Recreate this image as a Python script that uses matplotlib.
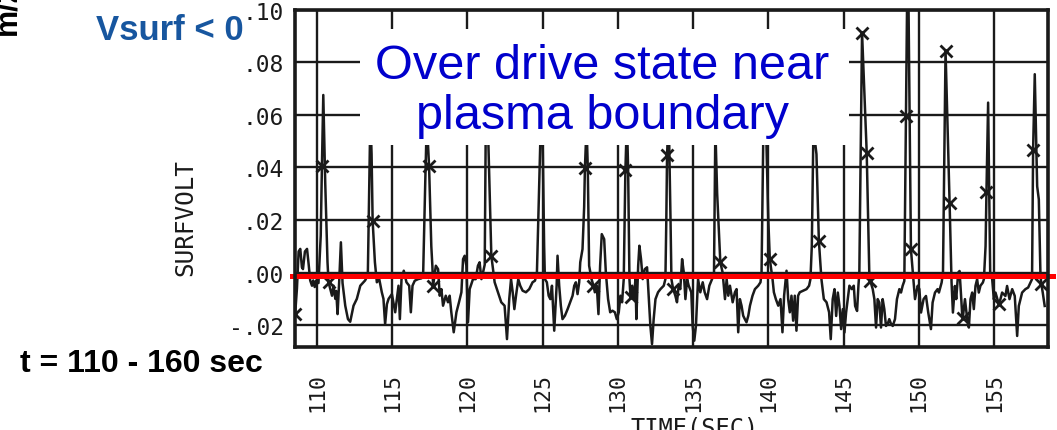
import matplotlib
matplotlib.use('Agg')
import matplotlib.pyplot as plt
from matplotlib.patches import Rectangle

# ---- data (time in sec, surface voltage) ----
time_s = [
    108.55, 108.67, 108.78, 108.89, 109.00, 109.07, 109.20, 109.34, 109.45, 109.55,
    109.67, 109.75, 109.85, 109.95, 110.10, 110.25, 110.33, 110.42, 110.55, 110.70,
    110.77, 111.00, 111.10, 111.22, 111.28, 111.37, 111.48, 111.59, 111.70, 111.88,
    112.06, 112.21, 112.43, 112.65, 112.88, 113.20, 113.38, 113.47, 113.55, 113.63,
    113.70, 113.85, 113.98, 114.14, 114.31, 114.42, 114.53, 114.65, 114.76, 114.98,
    115.20, 115.42, 115.51, 115.62, 115.77, 115.95, 116.13, 116.24, 116.35, 116.50,
    116.72, 116.94, 117.06, 117.20, 117.30, 117.45, 117.60, 117.67, 117.72, 117.90,
    118.05, 118.16, 118.27, 118.38, 118.56, 118.71, 118.82, 118.93, 119.09, 119.27,
    119.44, 119.60, 119.71, 119.82, 119.93, 120.04, 120.15, 120.37, 120.55, 120.70,
    120.81, 120.93, 121.04, 121.15, 121.22, 121.38, 121.59, 121.81, 122.03, 122.25,
    122.47, 122.63, 122.78, 122.90, 123.01, 123.12, 123.23, 123.38, 123.51, 123.67,
    123.89, 124.11, 124.33, 124.49, 124.62, 124.78, 124.90, 125.00, 125.10, 125.15,
    125.28, 125.40, 125.51, 125.62, 125.77, 125.93, 125.99, 126.10, 126.21, 126.32,
    126.48, 126.66, 126.83, 126.99, 127.10, 127.21, 127.32, 127.43, 127.50, 127.65,
    127.76, 127.81, 127.92, 128.00, 128.09, 128.25, 128.38, 128.47, 128.60, 128.71,
    128.82, 128.93, 129.09, 129.20, 129.35, 129.49, 129.64, 129.80, 129.93, 130.06,
    130.17, 130.28, 130.39, 130.50, 130.60, 130.68, 130.77, 130.84, 130.95, 131.06,
    131.17, 131.23, 131.35, 131.43, 131.54, 131.65, 131.79, 131.94, 132.05, 132.16,
    132.27, 132.38, 132.50, 132.67, 132.83, 133.05, 133.16, 133.22, 133.27, 133.38,
    133.50, 133.56, 133.67, 133.82, 133.93, 134.04, 134.15, 134.27, 134.38, 134.49,
    134.60, 134.71, 134.88, 134.97, 135.08, 135.19, 135.33, 135.48, 135.64, 135.77,
    135.93, 136.08, 136.26, 136.39, 136.48, 136.60, 136.81, 136.96, 137.12, 137.23,
    137.34, 137.45, 137.63, 137.78, 137.89, 138.00, 138.11, 138.22, 138.33, 138.44,
    138.55, 138.67, 138.78, 138.95, 139.11, 139.33, 139.48, 139.55, 139.68, 139.85,
    140.00, 140.10, 140.28, 140.37, 140.50, 140.66, 140.81, 140.94, 141.05, 141.21,
    141.32, 141.43, 141.54, 141.65, 141.76, 141.87, 141.98, 142.09, 142.32, 142.54,
    142.71, 142.80, 142.89, 143.00, 143.20, 143.36, 143.53, 143.69, 143.87, 144.04,
    144.15, 144.28, 144.40, 144.51, 144.62, 144.73, 144.84, 144.95, 145.06, 145.17,
    145.28, 145.39, 145.55, 145.68, 145.77, 145.90, 145.99, 146.05, 146.23, 146.54,
    146.72, 146.78, 146.94, 147.05, 147.16, 147.27, 147.38, 147.49, 147.60, 147.71,
    147.82, 147.93, 148.04, 148.16, 148.27, 148.42, 148.55, 148.71, 148.82, 148.93,
    149.04, 149.15, 149.27, 149.48, 149.66, 149.75, 149.93, 150.04, 150.15, 150.32,
    150.48, 150.63, 150.81, 150.92, 151.08, 151.25, 151.34, 151.52, 151.61, 151.78,
    152.05, 152.18, 152.27, 152.40, 152.49, 152.62, 152.71, 152.80, 152.89, 152.93,
    153.07, 153.22, 153.33, 153.44, 153.55, 153.66, 153.77, 153.88, 153.99, 154.10,
    154.26, 154.33, 154.44, 154.50, 154.61, 154.75, 154.88, 154.99, 155.10, 155.32,
    155.43, 155.54, 155.76, 155.87, 156.03, 156.21, 156.38, 156.54, 156.65, 156.87,
    157.09, 157.27, 157.42, 157.53, 157.60, 157.71, 157.87, 157.98, 158.09, 158.15,
    158.24, 158.37,
]
surfvolt = [
    -0.0158, -0.0060, 0.0080, 0.0090, 0.0020, 0.0013, 0.0080, 0.0090, 0.0030, -0.0030,
    -0.0050, -0.0030, -0.0055, -0.0030, -0.0040, 0.0140, 0.0406, 0.0675, 0.0340, 0.0040,
    -0.0037, -0.0088, -0.0050, -0.0100, -0.0070, -0.0158, -0.0030, 0.0115, -0.0040, -0.0126,
    -0.0177, -0.0187, -0.0126, -0.0100, -0.0050, -0.0030, -0.0010, 0.0300, 0.0600, 0.0450,
    0.0197, 0.0040, -0.0037, -0.0025, -0.0075, -0.0100, -0.0196, -0.0120, -0.0100, -0.0082,
    -0.0151, -0.0050, -0.0177, -0.0025, 0.0007, -0.0037, -0.0050, -0.0151, -0.0050, -0.0031,
    -0.0025, -0.0022, 0.0000, 0.0350, 0.0580, 0.0406, 0.0100, 0.0026, -0.0050, 0.0026,
    0.0013, -0.0088, -0.0063, -0.0126, -0.0088, -0.0113, -0.0088, -0.0151, -0.0227, -0.0151,
    -0.0113, -0.0075, 0.0051, 0.0064, 0.0026, -0.0189, -0.0063, -0.0025, -0.0025, 0.0026,
    0.0039, -0.0025, 0.0001, 0.0030, 0.0560, 0.0520, 0.0064, -0.0037, -0.0075, -0.0113,
    -0.0126, -0.0253, -0.0101, -0.0025, -0.0075, -0.0139, -0.0088, -0.0025, -0.0050, -0.0069,
    -0.0075, -0.0063, -0.0037, -0.0031, 0.0000, 0.0350, 0.0620, 0.0500, 0.0100, -0.0025,
    -0.0037, -0.0088, -0.0101, -0.0050, -0.0221, -0.0050, 0.0064, -0.0050, -0.0126, -0.0177,
    -0.0164, -0.0139, -0.0113, -0.0088, -0.0050, -0.0037, -0.0082, -0.0037, 0.0039, 0.0089,
    0.0250, 0.0398, 0.0560, 0.0400, 0.0026, -0.0025, -0.0050, -0.0075, -0.0050, -0.0158,
    0.0026, 0.0146, 0.0127, 0.0001, -0.0101, -0.0151, -0.0145, -0.0151, -0.0177, -0.0151,
    -0.0088, -0.0113, -0.0025, 0.0388, 0.0580, 0.0400, -0.0025, -0.0094, -0.0050, -0.0101,
    -0.0025, -0.0177, 0.0026, 0.0102, 0.0051, -0.0025, 0.0013, 0.0020, -0.0088, -0.0202,
    -0.0272, -0.0177, -0.0101, -0.0075, -0.0063, -0.0050, -0.0025, 0.0200, 0.0448, 0.0600,
    0.0200, -0.0025, -0.0062, -0.0088, -0.0113, -0.0050, -0.0063, 0.0051, 0.0001, -0.0101,
    -0.0025, -0.0050, -0.0075, -0.0202, -0.0259, -0.0202, -0.0025, -0.0075, -0.0037, -0.0075,
    -0.0101, -0.0050, -0.0025, 0.0000, 0.0550, 0.0300, 0.0039, 0.0001, -0.0101, -0.0025,
    -0.0088, -0.0050, -0.0113, -0.0075, -0.0063, -0.0227, -0.0101, -0.0126, -0.0164, -0.0177,
    -0.0189, -0.0164, -0.0126, -0.0088, -0.0063, -0.0050, -0.0037, 0.0000, 0.0580, 0.0550,
    0.0200, 0.0051, -0.0025, -0.0075, -0.0101, -0.0126, -0.0101, -0.0227, -0.0088, 0.0007,
    -0.0101, -0.0151, -0.0088, -0.0183, -0.0088, -0.0221, -0.0088, -0.0075, -0.0069, -0.0063,
    -0.0050, -0.0025, 0.0100, 0.0550, 0.0450, 0.0121, -0.0025, -0.0101, -0.0113, -0.0151,
    -0.0253, -0.0101, -0.0063, -0.0165, -0.0076, -0.0127, -0.0215, -0.0139, -0.0228, -0.0152,
    -0.0101, -0.0050, -0.0063, -0.0050, -0.0127, -0.0146, -0.0050, 0.0000, 0.0912, 0.0456,
    -0.0025, -0.0032, -0.0063, -0.0101, -0.0209, -0.0101, -0.0114, -0.0209, -0.0101, -0.0139,
    -0.0203, -0.0196, -0.0177, -0.0196, -0.0203, -0.0177, -0.0101, -0.0063, -0.0076, -0.0050,
    -0.0032, 0.0596, 0.1300, 0.0088, -0.0038, -0.0101, -0.0050, -0.0063, -0.0152, -0.0101,
    -0.0089, -0.0152, -0.0215, -0.0114, -0.0076, -0.0063, -0.0076, -0.0038, 0.0000, 0.0843,
    0.0263, -0.0038, -0.0152, -0.0051, -0.0101, 0.0000, 0.0006, -0.0076, -0.0165, -0.0171,
    -0.0101, -0.0177, -0.0209, -0.0101, -0.0076, -0.0139, -0.0051, -0.0025, -0.0076, -0.0050,
    -0.0038, -0.0025, 0.0100, 0.0307, 0.0646, -0.0010, -0.0025, -0.0101, -0.0076, -0.0120,
    -0.0101, -0.0076, -0.0089, -0.0051, -0.0101, -0.0063, -0.0089, -0.0241, -0.0127, -0.0076,
    -0.0063, -0.0057, -0.0038, -0.0025, 0.0466, 0.0754, 0.0328, 0.0278, -0.0012, -0.0044,
    -0.0076, -0.0127,
]

# plotted symbols along the trace
marker_time = [108.55, 110.33, 110.77, 113.70, 117.45, 117.72, 121.59, 127.81, 128.38,
               130.50, 130.84, 133.27, 133.67, 136.81, 140.10, 143.36, 146.23, 146.54,
               146.78, 149.15, 149.48, 151.78, 152.05, 152.93, 154.50, 155.32, 157.60,
               158.15]
marker_volt = [-0.0158, 0.0406, -0.0037, 0.0197, 0.0406, -0.0050, 0.0064, 0.0398, -0.0050,
               0.0388, -0.0094, 0.0448, -0.0062, 0.0039, 0.0051, 0.0121, 0.0912, 0.0456,
               -0.0032, 0.0596, 0.0088, 0.0843, 0.0263, -0.0171, 0.0307, -0.0120, 0.0466,
               -0.0044]

x_ticks = [110, 115, 120, 125, 130, 135, 140, 145, 150, 155]
x_tick_labels = ['110', '115', '120', '125', '130', '135', '140', '145', '150', '155']
y_ticks = [-0.02, 0.0, 0.02, 0.04, 0.06, 0.08, 0.10]
y_tick_labels = ['-.02', '.00', '.02', '.04', '.06', '.08', '.10']
red_level = -0.0012   # hand-drawn Vsurf = 0 line

W, H = 1057, 431
fig = plt.figure(figsize=(W / 100, H / 100), dpi=100)
fig.patch.set_facecolor('white')
ax = fig.add_axes([295 / W, 1 - 348 / H, 753 / W, 337.5 / H])

mono = 'DejaVu Sans Mono'
sans = 'Liberation Sans'
ink = '#1a1a1a'

ax.set_xlim(108.54, 158.59)
ax.set_ylim(-0.0283, 0.100)
ax.set_xticks(x_ticks)
ax.set_xticklabels(x_tick_labels, rotation=90, family=mono, fontsize=15.5, va='top')
ax.set_yticks(y_ticks)
ax.set_yticklabels(y_tick_labels, family=mono, fontsize=16.5)
ax.tick_params(axis='both', length=0, colors=ink)
ax.tick_params(axis='x', pad=18)
ax.tick_params(axis='y', pad=8)
ax.grid(True, color=ink, linewidth=1.7, zorder=1)
ax.set_axisbelow(True)
for s in ax.spines.values():
    s.set_linewidth(2.6)
    s.set_color(ink)
    s.set_zorder(8)

ax.plot(time_s, surfvolt, color=ink, linewidth=1.8, zorder=3)
ax.plot(marker_time, marker_volt, linestyle='none', marker='x', markersize=8,
        markeredgewidth=2.0, color=ink, zorder=4)

# white label box covering grid and trace
ax.add_patch(Rectangle((0.0863, 0.5985), 0.6494, 0.3437, transform=ax.transAxes,
                       facecolor='white', edgecolor='none', zorder=5))
ax.text(0.408, 0.760, 'Over drive state near\nplasma boundary', transform=ax.transAxes,
        ha='center', va='center', fontsize=35, color='#0000CC', family=sans,
        linespacing=1.12, zorder=6)

ax.axhline(red_level, xmin=-0.004, xmax=1.0066, color='#FF0000', linewidth=3.6,
           clip_on=False, zorder=7)

fig.text(185 / W, 1 - 218 / H, 'SURFVOLT', rotation=90, ha='center', va='center',
         family=mono, fontsize=17.5, color=ink)
fig.text(695 / W, 1 - 417 / H, 'TIME(SEC)', ha='center', va='top',
         family=mono, fontsize=17, color=ink)
fig.text(170 / W, 1 - 40 / H, 'Vsurf < 0', ha='center', va='baseline', fontsize=25,
         weight='bold', color='#17569F', family=sans)
fig.text(141 / W, 1 - 372 / H, 't = 110 - 160 sec', ha='center', va='baseline',
         fontsize=23, weight='bold', color='black', family=sans)
fig.text(15 / W, 1 - 35 / H, 'm/2', rotation=90, rotation_mode='anchor', ha='left',
         va='baseline', fontsize=22, weight='bold', color='black', family=sans)

fig.savefig('out.png', dpi=100, facecolor='white')
